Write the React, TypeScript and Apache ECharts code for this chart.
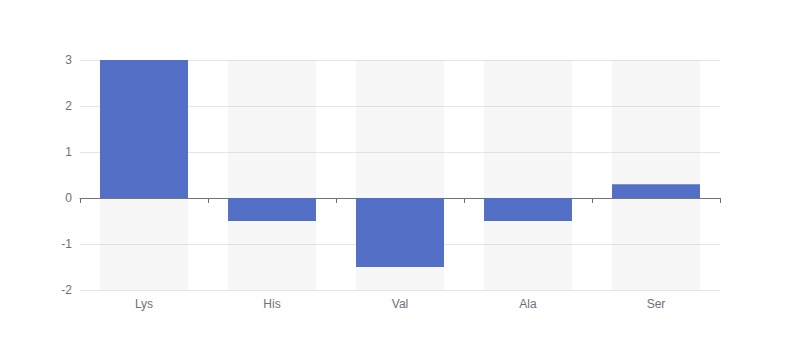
import React, { useEffect, useRef } from "react";
import * as echarts from "echarts";

const categories = ["Lys", "His", "Val", "Ala", "Ser"];
const values = [3, -0.5, -1.5, -0.5, 0.3];

export default function App() {
  const ref = useRef<HTMLDivElement>(null);
  useEffect(() => {
    if (!ref.current) return;
    const chart = echarts.init(ref.current, null, { renderer: "svg" });
    chart.setOption({
      animation: false,
      grid: { left: 80, right: 80, top: 60, bottom: 70, containLabel: false },
      xAxis: {
        type: "category",
        data: categories,
        axisLine: { lineStyle: { color: "#6E7079" } },
        axisTick: { show: true, lineStyle: { color: "#6E7079" } },
        axisLabel: { color: "#6E7079", fontSize: 12 },
      },
      yAxis: {
        type: "value",
        min: -2,
        max: 3,
        interval: 1,
        axisLabel: { color: "#6E7079", fontSize: 12 },
        splitLine: { lineStyle: { color: "#E0E6F1" } },
      },
      series: [
        {
          type: "bar",
          data: values,
          barWidth: 88,
          showBackground: true,
          backgroundStyle: { color: "rgba(180, 180, 180, 0.1)" },
          itemStyle: { color: "#5470c6" },
        },
      ],
    });
    return () => chart.dispose();
  }, []);
  return <div ref={ref} style={{ width: 800, height: 360, margin: -8 }} />;
}
